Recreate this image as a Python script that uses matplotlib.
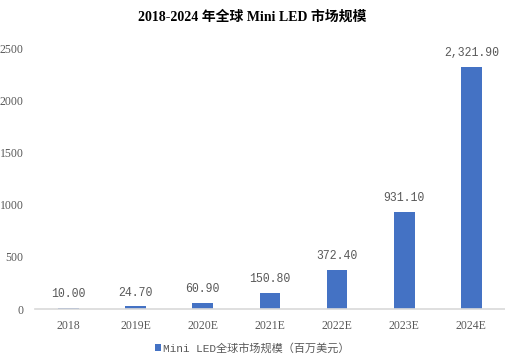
import matplotlib.pyplot as plt
import numpy as np

plt.rcParams['font.family'] = ['Noto Sans CJK SC', 'DejaVu Sans']

years = ['2018', '2019E', '2020E', '2021E', '2022E', '2023E', '2024E']
values = [10.00, 24.70, 60.90, 150.80, 372.40, 931.10, 2321.90]

fig = plt.figure(figsize=(5.05, 3.61), dpi=100)
ax = fig.add_axes([0.069, 0.144, 0.931, 0.723])

x = np.arange(len(years))
bars = ax.bar(x, values, width=0.31, color='#4472C4', label='Mini LED全球市场规模（百万美元）')

for xi, v in zip(x, values):
    ax.annotate(f'{v:,.2f}', (xi, v), xytext=(0, 10), textcoords='offset points',
                ha='center', va='center', fontsize=8.3, color='#595959',
                family=['Liberation Mono', 'Noto Sans CJK SC'])

ax.set_xlim(-0.5, len(years) - 0.5)
ax.set_ylim(0, 2500)
ax.set_yticks(range(0, 2501, 500))
ax.set_xticks(x)
ax.set_xticklabels(years)
ax.tick_params(axis='both', length=0, labelsize=8.5, labelcolor='#595959')
ax.tick_params(axis='x', pad=8)
ax.tick_params(axis='y', pad=8)
for lab in ax.get_xticklabels() + ax.get_yticklabels():
    lab.set_family(['Liberation Serif', 'Noto Sans CJK SC'])

for s in ['top', 'right', 'left']:
    ax.spines[s].set_visible(False)
ax.spines['bottom'].set_color('#D9D9D9')
ax.spines['bottom'].set_linewidth(1.2)

fig.text(0.5, 0.953, '2018-2024 年全球 Mini LED 市场规模', ha='center', va='center',
         fontsize=10, fontweight='bold', family=['Liberation Serif', 'Noto Sans CJK SC'])

fig.legend(loc='center', bbox_to_anchor=(0.5, 0.036), frameon=False,
           prop={'family': ['Liberation Mono', 'Noto Sans CJK SC'], 'size': 8},
           handlelength=0.5, handleheight=0.7, handletextpad=0.2, labelcolor='#595959')

fig.savefig('out.png', dpi=100)
